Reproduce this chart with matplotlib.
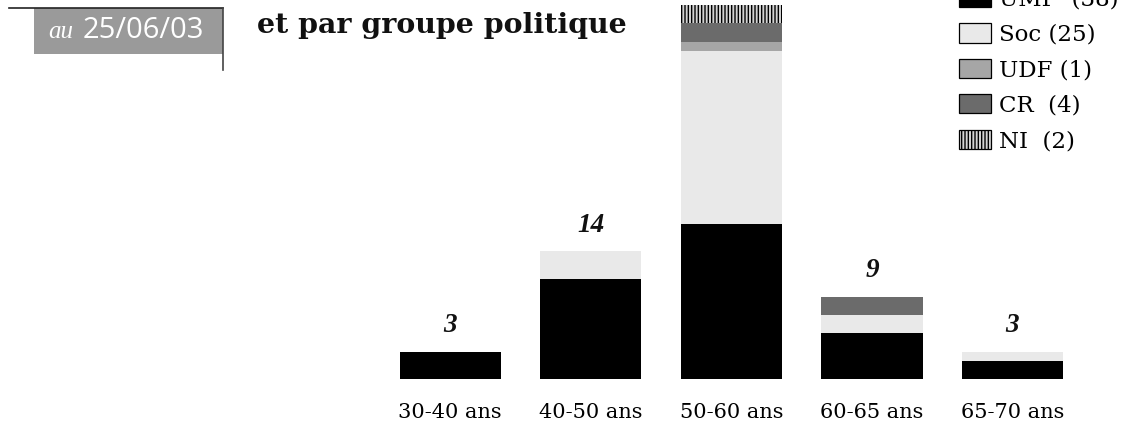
import matplotlib.pyplot as plt
from matplotlib.patches import Patch, Rectangle
from matplotlib.lines import Line2D

# Data: deputies by age group and political group
age_groups = ["30-40 ans", "40-50 ans", "50-60 ans", "60-65 ans", "65-70 ans"]
ump = [3, 11, 17, 5, 2]
soc = [0, 3, 19, 2, 1]
udf = [0, 0, 1, 0, 0]
cr = [0, 0, 2, 2, 0]
ni = [0, 0, 2, 0, 0]
legend_labels = ["UMP  (38)", "Soc (25)", "UDF (1)", "CR  (4)", "NI  (2)"]

series = [ump, soc, udf, cr, ni]
colors = ["#000000", "#e9e9e9", "#a6a6a6", "#6b6b6b", "#d4d4d4"]
hatches = [None, None, None, None, "|||||"]

W, H = 1123, 421
fig = plt.figure(figsize=(W / 100, H / 100), dpi=100)
fig.patch.set_facecolor("white")

# axes: baseline at y=379 px from top, bars from x=380 to 1080 px
ax = fig.add_axes([380 / W, (H - 379) / H, 700 / W, 379 / H])
x = list(range(len(age_groups)))
bottom = [0] * len(age_groups)
for vals, col, h in zip(series, colors, hatches):
    ax.bar(x, vals, width=0.72, bottom=bottom, color=col, hatch=h,
           edgecolor="black", linewidth=0)
    bottom = [b + v for b, v in zip(bottom, vals)]

ymax = 41.55
totals = bottom
for xi, t in zip(x, totals):
    if t + 4 > ymax:
        continue  # label of the tallest bar is outside the cropped frame
    ax.text(xi, t + 1.5, str(t), ha="center", va="bottom",
            fontsize=19.5, fontweight="bold", fontstyle="italic",
            family="Liberation Serif", color="#111111")

ax.set_xlim(-0.5, 4.48)
ax.set_ylim(0, ymax)
ax.set_xticks(x)
ax.set_xticklabels(age_groups, family="DejaVu Serif", fontsize=15)
ax.tick_params(axis="x", length=0, pad=17)
ax.set_yticks([])
for s in ax.spines.values():
    s.set_visible(False)
ax.patch.set_alpha(0)

# legend
handles = [Patch(facecolor=c, edgecolor="black", hatch=h, linewidth=0.9)
           for c, h in zip(colors, hatches)]
fig.legend(handles, legend_labels, loc="upper left",
           bbox_to_anchor=(959 / W, 1 + 12 / H), frameon=False,
           prop={"family": "DejaVu Serif", "size": 16.5},
           handlelength=1.4, handleheight=0.92, handletextpad=0.35,
           labelspacing=0.56, borderaxespad=0, borderpad=0)

# title
fig.text(257 / W, 1 - 33 / H, "et par groupe politique", ha="left", va="baseline",
         fontsize=20.5, fontweight="bold", family="DejaVu Serif", color="#111111")

# date box
fig.add_artist(Rectangle((34 / W, 1 - 54 / H), (223 - 34) / W, 46 / H,
                         transform=fig.transFigure, facecolor="#9a9a9a",
                         edgecolor="none"))
fig.add_artist(Line2D([9 / W, 223 / W], [1 - 8 / H, 1 - 8 / H],
                      transform=fig.transFigure, color="#222222", lw=1.2))
fig.add_artist(Line2D([223 / W, 223 / W], [1 - 8 / H, 1 - 70 / H],
                      transform=fig.transFigure, color="#444444", lw=1.2))
fig.text(48 / W, 1 - 38 / H, "au", ha="left", va="baseline", fontsize=18,
         fontstyle="italic", family="Liberation Serif", color="white")
fig.text(83 / W, 1 - 38 / H, "25/06/03", ha="left", va="baseline", fontsize=21,
         family="Open Sans", color="white")

fig.savefig("out.png", dpi=100, facecolor="white")
